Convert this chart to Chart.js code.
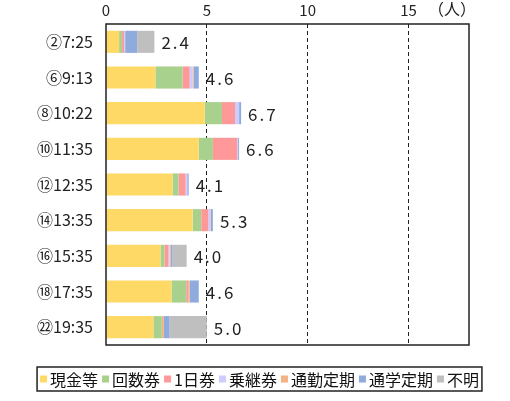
<!DOCTYPE html>
<html>
<head>
<meta charset="utf-8">
<script src="https://cdn.jsdelivr.net/npm/chart.js@4"></script>
<style>
  html, body { margin: 0; padding: 0; background: #fff; }
  #wrap { width: 510px; height: 401px; }
</style>
</head>
<body>
<div id="wrap"><canvas id="riders"></canvas></div>
<script>
// 便別・券種別の利用者数
const categories = ['②7:25', '⑥9:13', '⑧10:22', '⑩11:35', '⑫12:35', '⑭13:35', '⑯15:35', '⑱17:35', '㉒19:35'];
const seriesNames = ['現金等', '回数券', '1日券', '乗継券', '通勤定期', '通学定期', '不明'];
const cash      = [0.65, 2.45, 4.9, 4.6, 3.3, 4.3, 2.7, 3.25, 2.35];
const coupon    = [0.15, 1.35, 0.85, 0.7, 0.3, 0.42, 0.2, 0.73, 0.42];
const dayPass   = [0.1, 0.35, 0.65, 1.2, 0.35, 0.35, 0.2, 0.1, 0];
const transfer  = [0.05, 0.15, 0.2, 0.05, 0.08, 0.1, 0.05, 0, 0];
const commuter  = [0, 0.05, 0, 0, 0, 0.03, 0.05, 0.07, 0.1];
const student   = [0.6, 0.25, 0.1, 0.05, 0.07, 0.1, 0.1, 0.45, 0.28];
const unknown   = [0.85, 0, 0, 0, 0, 0, 0.7, 0, 1.85];
const xTicks = [0, 5, 10, 15];
const unitLabel = '（人）';

const colors = ['#FFD966', '#A9D18E', '#FF9999', '#CCCCFF', '#F4B183', '#8FAADC', '#BFBFBF'];
const seriesValues = [cash, coupon, dayPass, transfer, commuter, student, unknown];
const FONT = '"Noto Sans CJK JP", "Noto Sans", sans-serif';

// 合計値ラベル・枠線・単位・凡例
const extras = {
  id: 'extras',
  afterDatasetsDraw(chart) {
    const ctx = chart.ctx;
    const area = chart.chartArea;
    const last = chart.getDatasetMeta(chart.data.datasets.length - 1);
    ctx.save();
    ctx.fillStyle = '#222';
    ctx.font = '17px ' + FONT;
    ctx.textAlign = 'left';
    ctx.textBaseline = 'middle';
    if ('letterSpacing' in ctx) ctx.letterSpacing = '2px';
    categories.forEach((c, i) => {
      let total = 0;
      seriesValues.forEach(s => { total += s[i]; });
      const bar = last.data[i];
      ctx.fillText(total.toFixed(1), bar.x + 7, bar.y + 1);
    });
    ctx.restore();

    ctx.save();
    ctx.strokeStyle = '#222';
    ctx.lineWidth = 1.5;
    ctx.strokeRect(area.left, area.top, area.right - area.left, area.bottom - area.top);
    ctx.fillStyle = '#222';
    ctx.font = '16px ' + FONT;
    ctx.textBaseline = 'middle';
    ctx.fillText(unitLabel, 428, 9);
    ctx.restore();
  },
  afterDraw(chart) {
    const ctx = chart.ctx;
    ctx.save();
    ctx.font = '16px ' + FONT;
    ctx.textBaseline = 'middle';
    const box = 7, gapText = 3, gapItem = 4;
    let width = 0;
    const widths = seriesNames.map(n => ctx.measureText(n).width);
    widths.forEach(w => { width += box + gapText + w; });
    width += gapItem * (seriesNames.length - 1);
    const cx = 259.5, cy = 379;
    let x = cx - width / 2;
    ctx.strokeStyle = '#222';
    ctx.lineWidth = 1.5;
    ctx.strokeRect(x - 3, cy - 12, width + 6, 24);
    seriesNames.forEach((n, i) => {
      ctx.fillStyle = colors[i];
      ctx.fillRect(x, cy - box / 2, box, box);
      x += box + gapText;
      ctx.fillStyle = '#111';
      ctx.fillText(n, x, cy + 1);
      x += widths[i] + gapItem;
    });
    ctx.restore();
  }
};

new Chart(document.getElementById('riders').getContext('2d'), {
  type: 'bar',
  data: {
    labels: categories,
    datasets: seriesNames.map((name, i) => ({
      label: name,
      data: seriesValues[i],
      backgroundColor: colors[i],
      borderWidth: 0,
      barPercentage: 0.62,
      categoryPercentage: 1
    }))
  },
  options: {
    indexAxis: 'y',
    responsive: true,
    maintainAspectRatio: false,
    animation: false,
    layout: { padding: { top: 0, left: 0, right: 41, bottom: 56 } },
    plugins: {
      legend: { display: false },
      tooltip: { enabled: false }
    },
    scales: {
      x: {
        position: 'top',
        stacked: true,
        min: 0,
        max: 18,
        afterBuildTicks(scale) { scale.ticks = xTicks.map(v => ({ value: v })); },
        afterFit(scale) { scale.height = 24; },
        ticks: {
          padding: 5,
          color: '#222',
          font: { family: FONT, size: 15 }
        },
        grid: {
          drawTicks: false,
          color: ctx => (ctx.tick && ctx.tick.value > 0 ? '#222' : 'rgba(0,0,0,0)'),
          lineWidth: 1
        },
        border: { display: false, dash: [4, 3] }
      },
      y: {
        stacked: true,
        afterFit(scale) { scale.width = 106; },
        ticks: {
          padding: 13,
          color: '#222',
          font: { family: FONT, size: 16 }
        },
        grid: { display: false, drawTicks: false },
        border: { display: false }
      }
    }
  },
  plugins: [extras]
});
</script>
</body>
</html>
